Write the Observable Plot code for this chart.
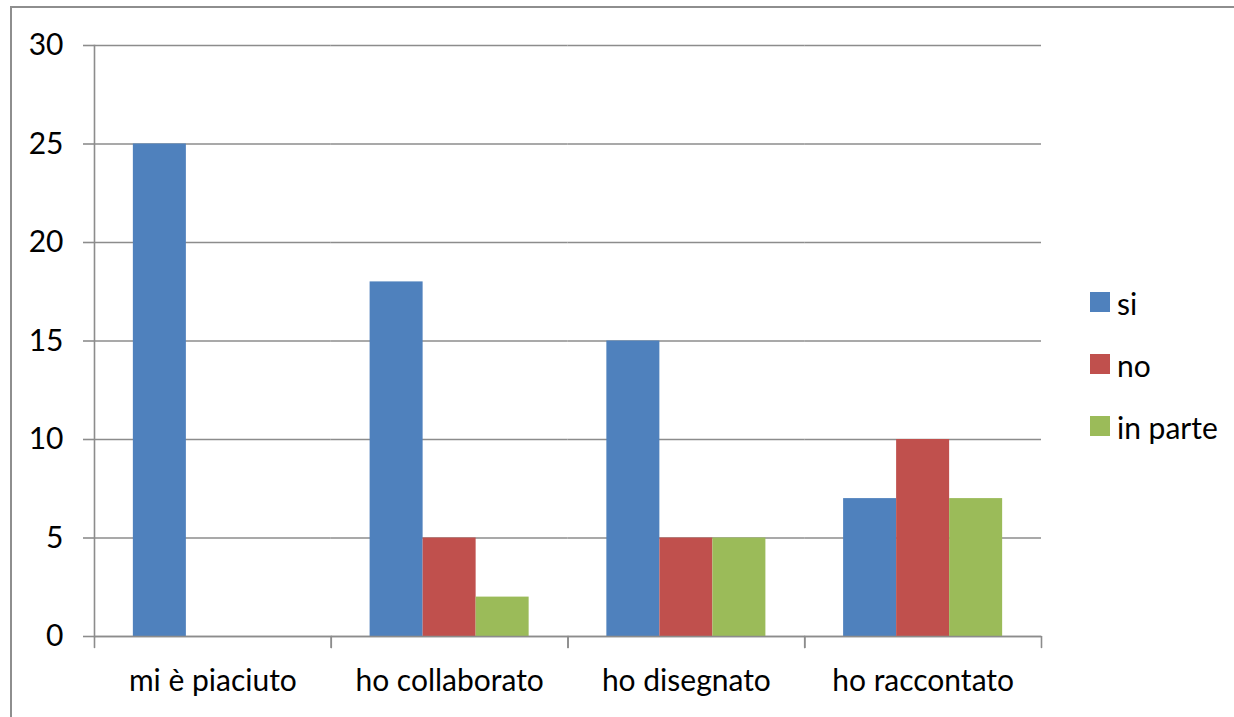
<!DOCTYPE html>
<html>
<head>
<meta charset="utf-8">
<script src="https://cdn.jsdelivr.net/npm/d3@7"></script>
<script src="https://cdn.jsdelivr.net/npm/@observablehq/plot@0.6"></script>
<style>
  body { margin: 0; background: #fff; }
  #wrap { position: relative; width: 1234px; height: 717px; overflow: hidden; font-family: Lato, "Open Sans", sans-serif; }
  #edge { position: absolute; left: 10px; top: 6px; right: -20px; bottom: -20px;
          border-left: 2px solid #8e8e8e; border-top: 2px solid #8e8e8e; }
  #chart { position: absolute; left: 0; top: 0; }
  #legend { position: absolute; left: 1090px; top: 292px; }
  .item { display: flex; align-items: flex-end; height: 20px; margin-bottom: 42px; }
  .sw { width: 20px; height: 20px; margin-right: 7px; flex: none; }
  .lab { font-size: 30px; line-height: 20px; color: #000; position: relative; top: 1px; white-space: nowrap; }
</style>
</head>
<body>
<div id="wrap">
  <div id="edge"></div>
  <div id="chart"></div>
  <div id="legend"></div>
</div>
<script>
// Survey answers per statement
const categories = ["mi è piaciuto", "ho collaborato", "ho disegnato", "ho raccontato"];
const series = ["si", "no", "in parte"];
const siValues = [25, 18, 15, 7];
const noValues = [0, 5, 5, 10];
const inParteValues = [0, 2, 5, 7];
const yTicks = [0, 5, 10, 15, 20, 25, 30];
const colors = ["#4f81bd", "#c0504d", "#9bbb59"];

const valuesBySeries = [siValues, noValues, inParteValues];
const rows = categories.flatMap((c, i) =>
  series.map((s, j) => ({category: c, series: s, value: valuesBySeries[j][i]}))
);

const lineColor = "#8c8c8c";
const lineWidth = 1.6;

// short vertical stroke used for the category separators below the baseline
const tickShape = {draw(context, l) { context.moveTo(0, 0); context.lineTo(0, -l); }};

const chart = Plot.plot({
  width: 1234,
  height: 717,
  marginLeft: 94,
  marginRight: 193,
  marginTop: 45,
  marginBottom: 81,
  style: {fontFamily: "Lato, 'Open Sans', sans-serif", fontSize: "30px", color: "#000", background: "transparent"},
  fx: {domain: categories, padding: 0, round: false, label: null},
  x: {domain: series, paddingInner: 0, paddingOuter: 0.733, round: false, axis: null},
  y: {domain: [0, 30], label: null},
  color: {domain: series, range: colors},
  marks: [
    Plot.gridY(yTicks, {stroke: lineColor, strokeOpacity: 1, strokeWidth: lineWidth}),
    Plot.axisY(yTicks, {tickSize: 11, tickPadding: 20, stroke: lineColor, strokeWidth: lineWidth, fill: "#000", label: null}),
    Plot.frame({anchor: "left", facetAnchor: "left", stroke: lineColor, strokeWidth: lineWidth}),
    Plot.barY(rows, {fx: "category", x: "series", y: "value", fill: "series"}),
    Plot.ruleY([0], {stroke: lineColor, strokeWidth: lineWidth}),
    Plot.vector([0], {frameAnchor: "bottom-left", length: 11, rotate: 180, anchor: "start", shape: tickShape, stroke: lineColor, strokeWidth: lineWidth}),
    Plot.vector([0], {frameAnchor: "bottom-right", length: 11, rotate: 180, anchor: "start", shape: tickShape, stroke: lineColor, strokeWidth: lineWidth}),
    Plot.axisFx({anchor: "bottom", tickSize: 0, tickPadding: 33, fill: "#000", label: null})
  ]
});
document.getElementById("chart").append(chart);

// legend
const color = chart.scale("color");
const legend = document.getElementById("legend");
series.forEach((s, j) => {
  const item = document.createElement("div");
  item.className = "item";
  const sw = document.createElement("div");
  sw.className = "sw";
  sw.style.background = color.range[j];
  const lab = document.createElement("span");
  lab.className = "lab";
  lab.textContent = s;
  item.append(sw, lab);
  legend.append(item);
});
</script>
</body>
</html>
